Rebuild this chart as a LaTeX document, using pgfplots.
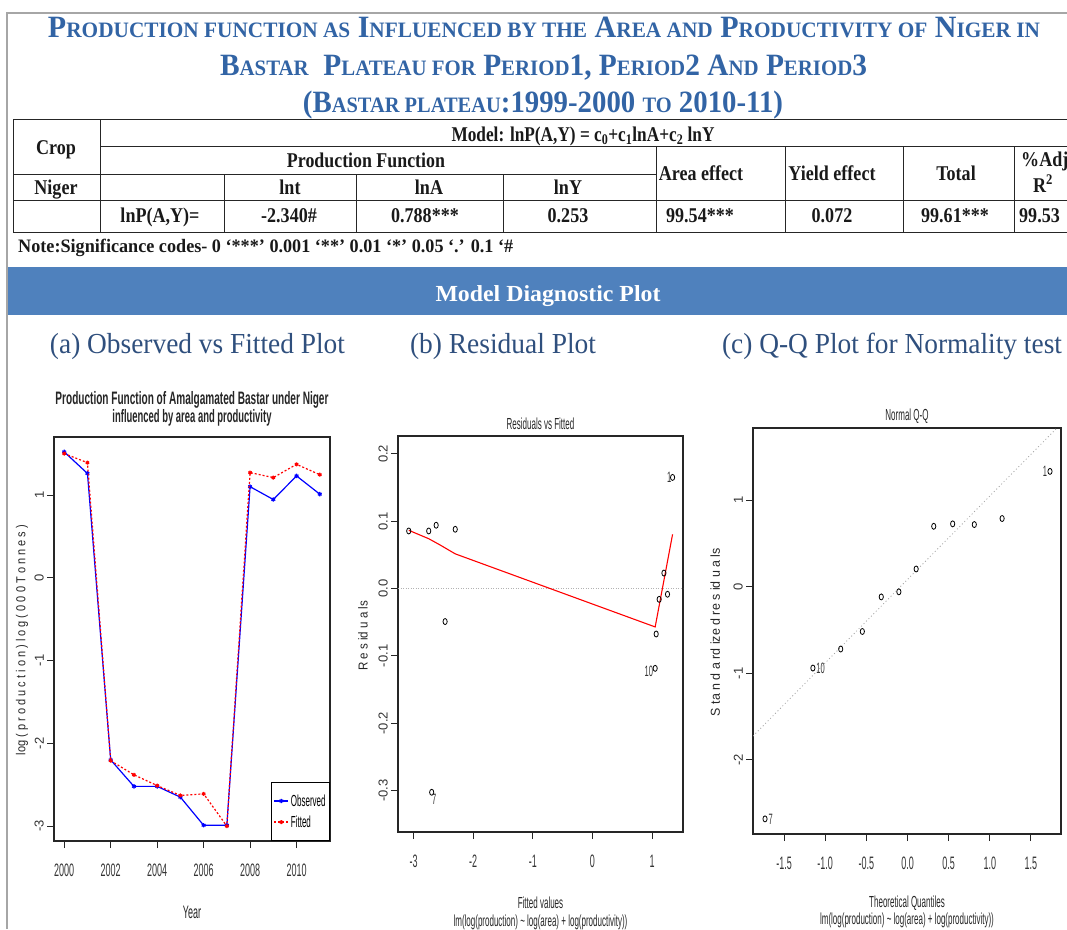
\documentclass[border=0pt]{standalone}
\usepackage{fontspec}
\usepackage{graphicx}
\usepackage{pgfplots}
\pgfplotsset{compat=1.18}
\setmainfont{Liberation Serif}
\newfontfamily\tser[FakeStretch=0.86]{Liberation Serif}
\newfontfamily\rsans[FakeStretch=0.5]{Liberation Sans}
\newfontfamily\rsansN{Liberation Sans}
\definecolor{titleblue}{RGB}{50,100,165}
\definecolor{bandblue}{RGB}{79,129,189}
\definecolor{subblue}{RGB}{47,79,125}
\newcommand{\ssc}[1]{{\fontsize{22}{22}\selectfont #1}}
\pgfplotsset{
  rbase/.style={
    scale only axis,
    axis line style={line width=1.1pt, black!85},
    every tick/.style={black!85, line width=0.9pt},
    tick align=outside, major tick length=7pt,
    xtick pos=lower, ytick pos=left,
    xticklabel style={font=\rsans\fontsize{18}{18}\selectfont, text=black!80, inner sep=0pt, anchor=north},
    yticklabel style={font=\rsansN\fontsize{13}{13}\selectfont, text=black!80, inner sep=0pt, rotate=90, anchor=south},
    xticklabel shift=16pt, yticklabel shift=3pt,
    label style={font=\rsans\fontsize{16}{16}\selectfont, text=black!85},
    title style={font=\rsans\fontsize{16}{16}\selectfont, text=black!85},
    clip mode=individual,
  },
  rpts/.style={only marks, mark=o, mark size=3pt, black, mark options={xscale=0.7, line width=0.8pt}},
}
\begin{document}
\begin{tikzpicture}[x=1pt,y=1pt]
\useasboundingbox (0,0) rectangle (1067,-929);
\clip (0,0) rectangle (1067,-929);
% outer frame
\draw[gray!70, line width=1.5pt] (7,-929) -- (7,-13) -- (1067,-13);

% ---------- title ----------
\begin{scope}[every node/.style={inner sep=0pt, anchor=base, text=titleblue, font=\bfseries\fontsize{31}{31}\selectfont}]
\node at (544,-37) {\resizebox{992pt}{\height}{P\ssc{RODUCTION FUNCTION AS} I\ssc{NFLUENCED BY THE} A\ssc{REA AND} P\ssc{RODUCTIVITY OF} N\ssc{IGER IN}}};
\node at (543.5,-75) {\resizebox{647pt}{\height}{B\ssc{ASTAR}\ \ P\ssc{LATEAU FOR} P\ssc{ERIOD}1, P\ssc{ERIOD}2 A\ssc{ND} P\ssc{ERIOD}3}};
\node at (543,-112) {\resizebox{480pt}{\height}{(B\ssc{ASTAR PLATEAU}:1999-2000 \ssc{TO} 2010-11)}};
\end{scope}

% ---------- table ----------
\begin{scope}[line width=1pt, black!85]
\draw (13,-119) -- (1067,-119);
\draw (100,-146) -- (1067,-146);
\draw (13,-174) -- (656,-174);
\draw (13,-200) -- (1067,-200);
\draw (13,-232) -- (1067,-232);
\draw (13,-119) -- (13,-232);
\draw (100,-119) -- (100,-232);
\foreach \x in {224,356,503} \draw (\x,-174) -- (\x,-232);
\foreach \x in {656,785,903,1014} \draw (\x,-146) -- (\x,-232);
\end{scope}
\begin{scope}[every node/.style={inner sep=0pt, anchor=base, text=black!90, font=\tser\bfseries\fontsize{21}{21}\selectfont}]
\node at (56,-154) {Crop};
\node at (56,-194) {Niger};
\node at (583,-141) {\resizebox{263pt}{\height}{Model: lnP(A,Y) = c\textsubscript{0}+c\textsubscript{1}lnA+c\textsubscript{2} lnY}};
\node at (366,-167) {\resizebox{158pt}{\height}{Production Function}};
\node at (290,-194) {lnt};
\node at (429,-194) {lnA};
\node at (568,-194) {lnY};
\node at (701,-180) {Area effect};
\node at (832,-180) {Yield effect};
\node at (956,-180) {Total};
\node[anchor=base west] at (1021,-166) {\%Adj};
\node at (1043,-192) {R\textsuperscript{2}};
\node at (160,-222) {lnP(A,Y)=};
\node at (289,-222) {-2.340\#};
\node at (425,-222) {0.788***};
\node at (568,-222) {0.253};
\node at (700,-222) {99.54***};
\node at (832,-222) {0.072};
\node at (955,-222) {99.61***};
\node[anchor=base west] at (1019,-222) {99.53};
\node[anchor=base west, font=\tser\bfseries\fontsize{19}{19}\selectfont] at (18,-252) {\resizebox{495pt}{\height}{Note:Significance codes- 0 ‘***’ 0.001 ‘**’ 0.01 ‘*’ 0.05 ‘.’ 0.1 ‘\#}};
\end{scope}

% ---------- band ----------
\fill[bandblue] (8,-267) rectangle (1067,-315);
\node[inner sep=0pt, anchor=base, text=white, font=\bfseries\fontsize{23}{23}\selectfont] at (548,-301) {\resizebox{225pt}{\height}{Model Diagnostic Plot}};

% ---------- subtitles ----------
\begin{scope}[every node/.style={inner sep=0pt, anchor=base, text=subblue, font=\fontsize{29}{29}\selectfont}]
\node at (197.5,-353) {\resizebox{295pt}{\height}{(a) Observed vs Fitted Plot}};
\node at (503,-353) {\resizebox{186pt}{\height}{(b) Residual Plot}};
\node at (892,-353) {\resizebox{340pt}{\height}{(c) Q-Q Plot for Normality test}};
\end{scope}

% ---------- panel (a) ----------
\begin{axis}[rbase, at={(54pt,-841pt)}, anchor=south west,
  width=276pt, height=404pt,
  xmin=1999.56, xmax=2011.44, ymin=-3.18, ymax=1.70,
  xtick={2000,2002,2004,2006,2008,2010}, xticklabels={2000,2002,2004,2006,2008,2010},
  ytick={-3,-2,-1,0,1}, yticklabels={-3,-2,-1,0,1},
  title={\resizebox{273pt}{\height}{\rsansN\bfseries\fontsize{18}{18}\selectfont Production Function of Amalgamated Bastar under Niger}\\[1pt]\resizebox{159pt}{\height}{\rsansN\bfseries\fontsize{18}{18}\selectfont influenced by area and productivity}},
  title style={at={(axis description cs:0.5,1.055)}, anchor=center, align=center},
  xlabel={Year},
  xlabel style={at={(axis description cs:0.5,-0.176)}, anchor=center, font=\rsans\fontsize{18}{18}\selectfont},
  ylabel={\resizebox{230pt}{\height}{log ( p r o d u c t i o n )  l o g ( 0 0 0  T o n n e s )}},
  ylabel style={at={(axis description cs:-0.116,0.4975)}, anchor=center, font=\rsansN\fontsize{13}{13}\selectfont},
  legend style={at={(1,0)}, anchor=south east, draw=black, line width=0.8pt, fill=white,
    font=\rsans\fontsize{16}{16}\selectfont, inner xsep=2pt, inner ysep=10pt, row sep=4pt},
  legend cell align=left,
  legend image code/.code={\draw[mark repeat=2,mark phase=2,#1] plot coordinates {(0pt,0pt) (7pt,0pt) (14pt,0pt)};},
]
\addplot[blue, line width=1.2pt, mark=asterisk, mark size=2.2pt] coordinates {
(2000,1.52) (2001,1.26) (2002,-2.20) (2003,-2.52) (2004,-2.52) (2005,-2.65)
(2006,-2.99) (2007,-2.99) (2008,1.10) (2009,0.945) (2010,1.23) (2011,1.01)};
\addlegendentry{Observed}
\addplot[red, line width=1.2pt, dash pattern=on 2pt off 2pt, mark=asterisk, mark size=2pt, mark options={solid}] coordinates {
(2000,1.50) (2001,1.39) (2002,-2.21) (2003,-2.38) (2004,-2.51) (2005,-2.63)
(2006,-2.61) (2007,-3.00) (2008,1.27) (2009,1.21) (2010,1.37) (2011,1.245)};
\addlegendentry{Fitted}
\end{axis}

% ---------- panel (b) ----------
\begin{axis}[rbase, at={(398pt,-832pt)}, anchor=south west,
  width=285pt, height=396pt,
  xmin=-3.26, xmax=1.52, ymin=-0.3615, ymax=0.2265,
  xtick={-3,-2,-1,0,1}, xticklabels={-3,-2,-1,0,1},
  ytick={-0.3,-0.2,-0.1,0,0.1,0.2}, yticklabels={-0.3,-0.2,-0.1,0.0,0.1,0.2},
  title={Residuals vs Fitted},
  title style={at={(axis description cs:0.5,1.015)}, anchor=center},
  xlabel={Fitted values},
  xlabel style={at={(axis description cs:0.5,-0.179)}, anchor=center},
  ylabel={\resizebox{70pt}{\height}{R e s id u a ls}},
  ylabel style={at={(axis description cs:-0.123,0.495)}, anchor=center, font=\rsansN\fontsize{13}{13}\selectfont},
]
\addplot[gray!60, line width=0.8pt, dash pattern=on 1pt off 1.5pt] coordinates {(-3.26,0) (1.52,0)};
\addplot[red, line width=1.1pt] coordinates {
(-3.08,0.0865) (-2.745,0.074) (-2.56,0.065) (-2.30,0.0515) (1.053,-0.057) (1.345,0.0805)};
\addplot[rpts] coordinates {
(-3.08,0.0855) (-2.745,0.0855) (-2.62,0.094) (-2.30,0.088) (-2.47,-0.049) (-2.695,-0.3025)
(1.07,-0.0675) (1.053,-0.1185) (1.12,-0.016) (1.20,0.023) (1.26,-0.0085) (1.345,0.165)};
\node[font=\rsans\fontsize{15}{15}\selectfont, text=black!80, anchor=north west, inner sep=0pt] at (axis cs:-2.69,-0.3055) {7};
\node[font=\rsans\fontsize{15}{15}\selectfont, text=black!80, anchor=east, inner sep=0pt] at (axis cs:1.02,-0.123) {10};
\node[font=\rsans\fontsize{15}{15}\selectfont, text=black!80, anchor=east, inner sep=0pt] at (axis cs:1.325,0.165) {1};
\node[font=\rsans\fontsize{16}{16}\selectfont, text=black!85] at (axis description cs:0.5,-0.227) {lm(log(production) \textasciitilde{} log(area) + log(productivity))};
\end{axis}

% ---------- panel (c) ----------
\begin{axis}[rbase, at={(753pt,-834pt)}, anchor=south west,
  width=308pt, height=406pt,
  xmin=-1.878, xmax=1.866, ymin=-2.86, ymax=1.837,
  xtick={-1.5,-1,-0.5,0,0.5,1,1.5}, xticklabels={-1.5,-1.0,-0.5,0.0,0.5,1.0,1.5},
  ytick={-2,-1,0,1}, yticklabels={-2,-1,0,1},
  title={Normal Q-Q},
  title style={at={(axis description cs:0.5,1.014)}, anchor=center},
  xlabel={Theoretical Quantiles},
  xlabel style={at={(axis description cs:0.5,-0.170)}, anchor=center},
  ylabel={\resizebox{168pt}{\height}{S ta n d a rd ize d  re s id u a ls}},
  ylabel style={at={(axis description cs:-0.123,0.4975)}, anchor=center, font=\rsansN\fontsize{13}{13}\selectfont},
]
\addplot[gray!70, line width=0.8pt, dash pattern=on 1pt off 2.5pt] coordinates {(-1.878,-1.727) (1.816,1.837)};
\addplot[rpts] coordinates {
(-1.732,-2.685) (-1.150,-0.94) (-0.812,-0.72) (-0.549,-0.517) (-0.319,-0.117) (-0.105,-0.058)
(0.105,0.206) (0.319,0.70) (0.549,0.728) (0.812,0.72) (1.150,0.79) (1.732,1.335)};
\node[font=\rsans\fontsize{15}{15}\selectfont, text=black!80, anchor=west, inner sep=0pt] at (axis cs:-1.69,-2.685) {7};
\node[font=\rsans\fontsize{15}{15}\selectfont, text=black!80, anchor=west, inner sep=0pt] at (axis cs:-1.11,-0.94) {10};
\node[font=\rsans\fontsize{15}{15}\selectfont, text=black!80, anchor=east, inner sep=0pt] at (axis cs:1.70,1.335) {1};
\node[font=\rsans\fontsize{16}{16}\selectfont, text=black!85] at (axis description cs:0.5,-0.212) {lm(log(production) \textasciitilde{} log(area) + log(productivity))};
\end{axis}
\end{tikzpicture}
\end{document}
